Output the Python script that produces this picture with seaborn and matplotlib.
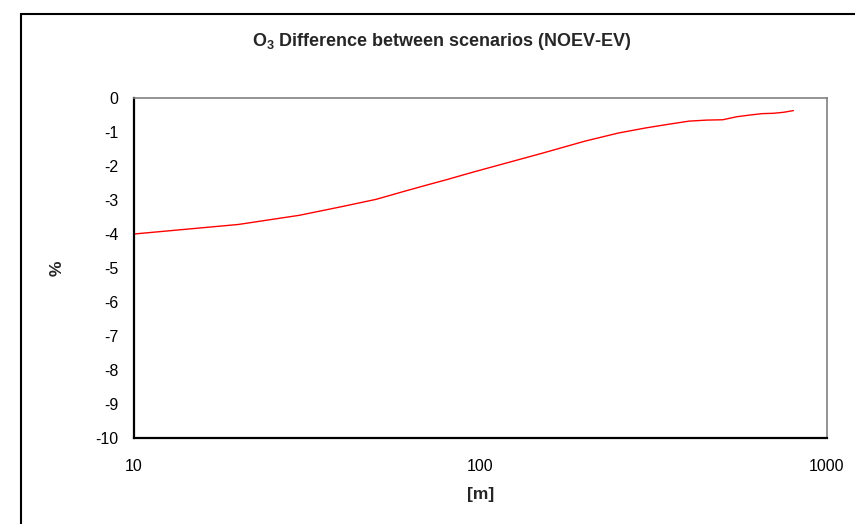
import matplotlib
matplotlib.use("Agg")
import matplotlib.pyplot as plt
import seaborn as sns
import pandas as pd
from matplotlib.patches import Rectangle
from matplotlib.ticker import FixedLocator, FixedFormatter, NullLocator

distance_m = [10, 20, 30, 40, 50, 60, 70, 80, 90, 100, 150, 200, 250, 300,
              350, 400, 450, 500, 550, 600, 650, 700, 750, 800]
o3_diff_pct = [-4.00, -3.72, -3.45, -3.19, -2.98, -2.75, -2.56, -2.40, -2.25,
               -2.12, -1.63, -1.27, -1.03, -0.88, -0.77, -0.68, -0.65, -0.64,
               -0.55, -0.50, -0.46, -0.45, -0.42, -0.37]
x_ticks = [10, 100, 1000]
x_tick_labels = ["10", "100", "1000"]
y_ticks = list(range(-10, 1))

title = r"O$_\mathbf{3}$ Difference between scenarios (NOEV-EV)"
xlabel = "[m]"
ylabel = "%"

sns.set_style("white")
plt.rcParams["font.family"] = ["Liberation Sans", "DejaVu Sans"]
plt.rcParams["mathtext.fontset"] = "custom"
plt.rcParams["mathtext.rm"] = "Liberation Sans"
plt.rcParams["mathtext.bf"] = "Liberation Sans:bold"

df = pd.DataFrame({"distance": distance_m, "diff": o3_diff_pct})

fig = plt.figure(figsize=(8.55, 5.24), dpi=100)
ax = fig.add_axes([134/855, 1-438/524, (827-134)/855, (438-98)/524])

sns.lineplot(data=df, x="distance", y="diff", color="#ff0000", lw=1.0, ax=ax)

ax.set_xscale("log")
ax.set_xlim(10, 1000)
ax.set_ylim(-10, 0)
ax.xaxis.set_major_locator(FixedLocator(x_ticks))
ax.xaxis.set_major_formatter(FixedFormatter(x_tick_labels))
ax.xaxis.set_minor_locator(NullLocator())
ax.set_yticks(y_ticks)
ax.set_yticklabels([str(v) for v in y_ticks])

ax.tick_params(axis="both", which="major", direction="out", length=5, width=1,
               colors="black", labelsize=11.5, pad=6)
ax.tick_params(axis="x", pad=10)

for side in ["left", "bottom"]:
    ax.spines[side].set_color("black")
    ax.spines[side].set_linewidth(1.6)
for side in ["top", "right"]:
    ax.spines[side].set_color("#808080")
    ax.spines[side].set_linewidth(1.2)
    ax.spines[side].set_visible(True)

ax.set_xlabel(xlabel, fontsize=12.5, fontweight="bold")
ax.set_ylabel(ylabel, fontsize=12.5, fontweight="bold")
ax.xaxis.label.set_va("center")
ax.yaxis.label.set_va("center")
ax.xaxis.set_label_coords(0.5, -(495-438)/340)
ax.yaxis.set_label_coords((57-134)/693, 0.5)

fig.text(442/855, 1-41/524, title, ha="center", va="center", fontsize=13,
         fontweight="bold")

fig.patches.append(Rectangle((21/855, -0.1), 1.2, 1.1 - 14/524, transform=fig.transFigure,
                             fill=False, edgecolor="black", lw=1.5))

fig.savefig("out.png", dpi=100)
